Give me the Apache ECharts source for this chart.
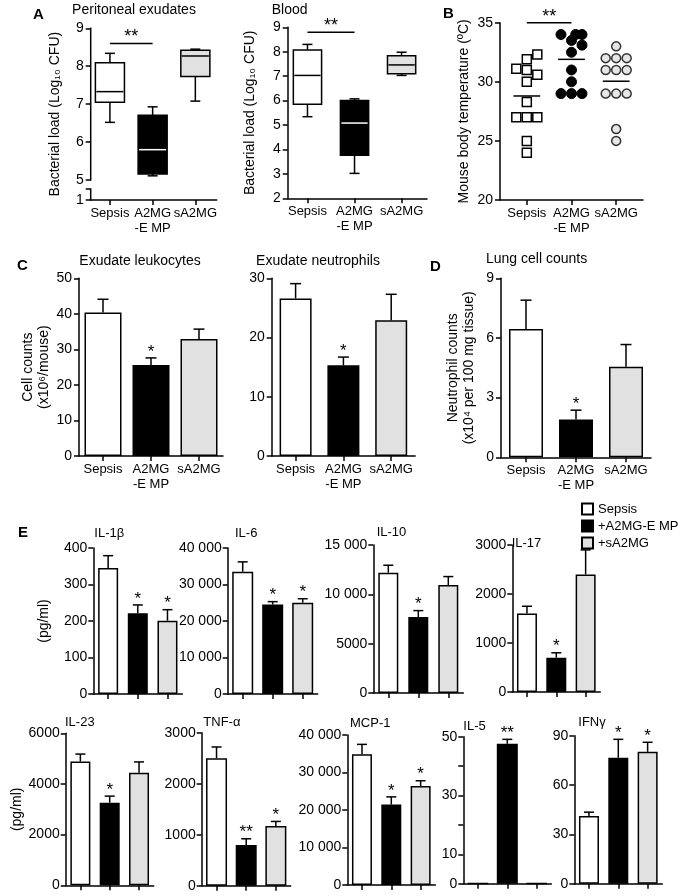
<!DOCTYPE html>
<html><head><meta charset="utf-8">
<script src="https://cdn.jsdelivr.net/npm/echarts@6/dist/echarts.min.js"></script>
<style>html,body{margin:0;padding:0;background:#fff}#c{width:683px;height:896px}</style>
</head><body><div id="c"></div>
<script>
const FF = '"Liberation Sans", Arial, Helvetica, sans-serif';
const groups = ['Sepsis', 'A2MG\n-E MP', 'sA2MG'];
const legendNames = ['Sepsis', '+A2MG-E MP', '+sA2MG'];
const groupFills = ['#ffffff', '#000000', '#e1e1e1'];

// Panel A: box plots [min, Q1, median, Q3, max]
const periSepsis = [6.52, 7.05, 7.33, 8.09, 8.34];
const periA2mg   = [5.11, 5.16, 5.80, 6.71, 6.93];
const periSa2mg  = [7.08, 7.73, 8.27, 8.42, 8.45];
const bloodSepsis = [5.34, 5.85, 7.03, 8.07, 8.30];
const bloodA2mg   = [3.02, 3.76, 5.08, 6.00, 6.07];
const bloodSa2mg  = [7.03, 7.10, 7.46, 7.84, 7.98];
const periTicks = [5, 6, 7, 8, 9];
const periBreakLabel = '1';
const periAxisMin = 4.473;
const periBreakTop = 4.76;
const periSig = [0, 1, 8.6];
const bloodSig = [0, 1, 8.8];

// Panel B: body temperature, with dodge column per point
const tempSepsis    = [32.3, 31.9, 31.1, 31.0, 30.6, 30.0, 28.3, 27.0, 27.0, 27.0, 25.0, 24.0];
const tempSepsisCol = [1, 0, -1, 0, 1, 0, 0, -1, 0, 1, 0, 0];
const tempA2mg      = [34.0, 34.0, 34.0, 33.5, 33.1, 32.5, 31.0, 30.0, 29.0, 29.0, 29.0];
const tempA2mgCol   = [-1, 0.4, 1, 0, 1, 0, 0, 0, -1, 0, 1];
const tempSa2mg     = [33, 32, 32, 32, 31, 31, 31, 29, 29, 29, 26, 25];
const tempSa2mgCol  = [0, -1, 0, 1, -1, 0, 1, -1, 0, 1, 0, 0];
const tempMean = [28.8, 31.9, 30.05];
const tempSig = [0, 1, 35];

// Panels C, D: mean and SEM
const leukoMean = [40.4, 25.6, 32.9];  const leukoSem = [3.7, 2.0, 2.8];  const leukoStars = ['', '*', ''];
const neutroMean = [26.6, 15.3, 22.9]; const neutroSem = [2.5, 1.4, 4.4]; const neutroStars = ['', '*', ''];
const lungMean = [6.45, 1.9, 4.55];    const lungSem = [1.45, 0.47, 1.12]; const lungStars = ['', '*', ''];

// Panel E: cytokines (pg/ml) mean and SEM
const il1bMean = [345, 221, 201];        const il1bSem = [34, 23, 30];         const il1bStars = ['', '*', '*'];
const il6Mean = [33500, 24500, 25000];   const il6Sem = [2700, 800, 1100];     const il6Stars = ['', '*', '*'];
const il10Mean = [12200, 7700, 10950];   const il10Sem = [750, 650, 850];      const il10Stars = ['', '*', ''];
const il17Mean = [1600, 700, 2400];      const il17Sem = [150, 100, 500];      const il17Stars = ['', '*', ''];
const il23Mean = [4890, 3260, 4440];     const il23Sem = [290, 260, 430];      const il23Stars = ['', '*', ''];
const tnfMean = [2500, 800, 1170];       const tnfSem = [220, 120, 90];        const tnfStars = ['', '**', '*'];
const mcpMean = [34900, 21450, 26400];   const mcpSem = [2600, 2050, 1400];    const mcpStars = ['', '*', '*'];
const il5Mean = [0.15, 47.6, 0.15];      const il5Sem = [0, 1.5, 0];           const il5Stars = ['', '**', ''];
const ifnMean = [41.2, 76.6, 80.2];      const ifnSem = [2.3, 11.2, 5.8];      const ifnStars = ['', '*', '*'];
const il5Labeled = [0, 10, 30, 50];

function merge(a, b) {
  const out = Object.assign({}, a);
  for (const k in b) {
    const v = b[k];
    if (v && typeof v === 'object' && !Array.isArray(v) && a && a[k] && typeof a[k] === 'object' && !Array.isArray(a[k])) out[k] = merge(a[k], v);
    else out[k] = v;
  }
  return out;
}

const option = {animation: false, backgroundColor: '#fff', grid: [], xAxis: [], yAxis: [], series: [], graphic: []};
const baseAxis = {
  splitLine: {show: false},
  axisLine: {show: true, onZero: false, lineStyle: {color: '#000', width: 1.5}},
  axisTick: {show: true, length: 5, lineStyle: {color: '#000', width: 1.5}},
  axisLabel: {color: '#000', fontFamily: FF, fontSize: 14},
  nameTextStyle: {color: '#000', fontFamily: FF, fontSize: 14}
};
function addGrid(l, t, w, h) { option.grid.push({left: l, top: t, width: w, height: h, containLabel: false, outerBoundsMode: 'none'}); return option.grid.length - 1; }
function addY(gi, o) { option.yAxis.push(merge(merge(baseAxis, {type: 'value', gridIndex: gi, axisLabel: {margin: 7}}), o)); return option.yAxis.length - 1; }
function addX(gi, o) { option.xAxis.push(merge(merge(baseAxis, {gridIndex: gi, axisLabel: {fontSize: 13, lineHeight: 15, margin: 6}}), o)); return option.xAxis.length - 1; }
const LS = {stroke: '#000', lineWidth: 1.5};
function ln(x1, y1, x2, y2, st) { return {type: 'line', shape: {x1, y1, x2, y2}, style: st || LS}; }
function txt(text, x, y, size) {
  return {type: 'text', style: {text, x, y, align: 'center', verticalAlign: 'middle', textAlign: 'center', textVerticalAlign: 'middle', fontSize: size || 15, fontFamily: FF, fill: '#000'}};
}

function boxRenderer(frac) {
  return function (params, api) {
    const x = api.value(0);
    const pt = k => api.coord([x, api.value(k)]);
    const lo = pt(1), q1 = pt(2), md = pt(3), q3 = pt(4), hi = pt(5);
    const cx = lo[0], bw = api.size([1, 0])[0] * frac, cap = 10, i = params.dataIndex;
    return {type: 'group', children: [
      ln(cx, lo[1], cx, q1[1]), ln(cx, q3[1], cx, hi[1]),
      ln(cx - cap / 2, lo[1], cx + cap / 2, lo[1]), ln(cx - cap / 2, hi[1], cx + cap / 2, hi[1]),
      {type: 'rect', shape: {x: cx - bw / 2, y: q3[1], width: bw, height: q1[1] - q3[1]}, style: {fill: groupFills[i], stroke: '#000', lineWidth: 1.5}},
      ln(cx - bw / 2 + 1, md[1], cx + bw / 2 - 1, md[1], {stroke: i === 1 ? '#fff' : '#000', lineWidth: 1.5})
    ]};
  };
}
function sigRenderer(params, api) {
  const a = api.coord([api.value(0), api.value(2)]), b = api.coord([api.value(1), api.value(2)]);
  return {type: 'group', children: [ln(a[0], a[1], b[0], b[1]), txt('**', (a[0] + b[0]) / 2, a[1] - 6, 18)]};
}
function errRenderer(stars, cap) {
  return function (params, api) {
    const i = api.value(0);
    const p0 = api.coord([i, api.value(1)]), p1 = api.coord([i, api.value(2)]);
    const ch = [];
    if (p1[1] < p0[1] - 0.5) { ch.push(ln(p0[0], p0[1], p1[0], p1[1])); ch.push(ln(p1[0] - cap / 2, p1[1], p1[0] + cap / 2, p1[1])); }
    const s = stars[params.dataIndex];
    if (s) ch.push(txt(s, p1[0], p1[1] - 6, 17));
    return {type: 'group', children: ch};
  };
}
function meanRenderer(params, api) {
  const p = api.coord([api.value(0), api.value(1)]), w = api.size([1, 0])[0] * 0.6;
  return ln(p[0] - w / 2, p[1], p[0] + w / 2, p[1]);
}
function axisSegRenderer(params, api) {
  const a = api.coord([0, api.value(1)]), b = api.coord([0, api.value(2)]), x = params.coordSys.x;
  return {type: 'line', shape: {x1: x, y1: a[1], x2: x, y2: b[1]}, style: {stroke: '#000', lineWidth: 1.5, lineCap: 'square'}};
}
const catLabels = {customValues: [0, 1, 2], formatter: v => groups[Math.round(v)]};

// ---- Panel A left: Peritoneal exudates
(function () {
  const g = addGrid(90.7, 28.3, 126, 171.7);
  const xi = addX(g, {type: 'value', min: -0.45, max: 2.5, axisTick: {customValues: [0, 1, 2]}, axisLabel: catLabels});
  const yi = addY(g, {min: periAxisMin, max: 9, axisLine: {show: false},
    axisTick: {customValues: [periAxisMin, periBreakTop].concat(periTicks)},
    axisLabel: {customValues: [periAxisMin].concat(periTicks), formatter: v => v < 4.9 ? periBreakLabel : String(v)},
    name: 'Bacterial load (Log\u2081\u2080 CFU)', nameLocation: 'middle', nameRotate: 90, nameGap: 29});
  const rows = [periSepsis, periA2mg, periSa2mg].map((r, i) => [i].concat(r));
  option.series.push({type: 'custom', xAxisIndex: xi, yAxisIndex: yi, clip: false, renderItem: boxRenderer(0.68), encode: {x: 0, y: [1, 2, 3, 4, 5]}, data: rows, z: 3});
  option.series.push({type: 'custom', xAxisIndex: xi, yAxisIndex: yi, clip: false, renderItem: axisSegRenderer, encode: {x: 0, y: [1, 2]}, data: [[0, 9, 5], [0, periBreakTop, periAxisMin]], z: 4});
  option.series.push({type: 'custom', xAxisIndex: xi, yAxisIndex: yi, clip: false, renderItem: sigRenderer, encode: {x: [0, 1], y: 2}, data: [periSig], z: 4});
})();

// ---- Panel A right: Blood
(function () {
  const g = addGrid(287.7, 27.3, 139.3, 171);
  const xi = addX(g, {type: 'value', min: -0.42, max: 2.54, axisTick: {customValues: [0, 1, 2]}, axisLabel: catLabels});
  const yi = addY(g, {min: 2, max: 9, interval: 1, name: 'Bacterial load (Log\u2081\u2080 CFU)', nameLocation: 'middle', nameRotate: 90, nameGap: 31});
  const rows = [bloodSepsis, bloodA2mg, bloodSa2mg].map((r, i) => [i].concat(r));
  option.series.push({type: 'custom', xAxisIndex: xi, yAxisIndex: yi, clip: false, renderItem: boxRenderer(0.6), encode: {x: 0, y: [1, 2, 3, 4, 5]}, data: rows, z: 3});
  option.series.push({type: 'custom', xAxisIndex: xi, yAxisIndex: yi, clip: false, renderItem: sigRenderer, encode: {x: [0, 1], y: 2}, data: [bloodSig], z: 4});
})();

// ---- Panel B: temperature
(function () {
  const g = addGrid(500, 22.7, 143, 177.3);
  const xi = addX(g, {type: 'value', min: -0.6, max: 2.6, axisTick: {customValues: [0, 1, 2]}, axisLabel: catLabels});
  const yi = addY(g, {min: 20, max: 35, interval: 5, name: 'Mouse body temperature (\u00baC)', nameLocation: 'middle', nameRotate: 90, nameGap: 29});
  const dodge = 0.235;
  const mk = (vals, cols, gi) => vals.map((v, k) => [gi + cols[k] * dodge, v]);
  option.series.push({type: 'scatter', xAxisIndex: xi, yAxisIndex: yi, symbol: 'rect', symbolSize: 9, itemStyle: {color: '#fff', borderColor: '#000', borderWidth: 1.5, opacity: 1}, data: mk(tempSepsis, tempSepsisCol, 0), z: 3});
  option.series.push({type: 'scatter', xAxisIndex: xi, yAxisIndex: yi, symbol: 'circle', symbolSize: 10, itemStyle: {color: '#000', borderColor: '#000', borderWidth: 1, opacity: 1}, data: mk(tempA2mg, tempA2mgCol, 1), z: 3});
  option.series.push({type: 'scatter', xAxisIndex: xi, yAxisIndex: yi, symbol: 'circle', symbolSize: 9, itemStyle: {color: '#e6e6e6', borderColor: '#333', borderWidth: 1.5, opacity: 1}, data: mk(tempSa2mg, tempSa2mgCol, 2), z: 3});
  option.series.push({type: 'custom', xAxisIndex: xi, yAxisIndex: yi, clip: false, renderItem: meanRenderer, encode: {x: 0, y: 1}, data: tempMean.map((m, i) => [i, m]), z: 4});
  option.series.push({type: 'custom', xAxisIndex: xi, yAxisIndex: yi, clip: false, renderItem: sigRenderer, encode: {x: [0, 1], y: 2}, data: [tempSig], z: 4});
})();

// ---- bar panels
function barPanel(box, yopt, mean, sem, stars, barWidth, cap, showLabels) {
  const g = addGrid(box[0], box[1], box[2], box[3]);
  const xi = addX(g, {type: 'category', data: groups, axisTick: {alignWithLabel: true}, axisLabel: {show: showLabels, interval: 0}});
  const yi = addY(g, yopt);
  option.series.push({type: 'bar', xAxisIndex: xi, yAxisIndex: yi, barWidth: barWidth, z: 2,
    data: mean.map((v, i) => ({value: v, itemStyle: {color: groupFills[i], borderColor: '#000', borderWidth: 1.5}}))});
  option.series.push({type: 'custom', xAxisIndex: xi, yAxisIndex: yi, clip: false, renderItem: errRenderer(stars, cap), encode: {x: 0, y: [1, 2]},
    data: mean.map((v, i) => [i, v, v + sem[i]]), z: 4});
}
const nameMid = (name, gap, lh) => ({name, nameLocation: 'middle', nameRotate: 90, nameGap: gap, nameTextStyle: {lineHeight: lh || 16}});
const fmtK = v => v >= 10000 ? String(v).replace(/\B(?=(\d{3})+(?!\d))/g, ' ') : String(v);

barPanel([79, 278.3, 144, 177.7], merge({min: 0, max: 50, interval: 10}, nameMid('Cell counts\n(x10\u2076/mouse)', 24)), leukoMean, leukoSem, leukoStars, 37, 11, true);
barPanel([271.7, 278.3, 143.4, 177.7], {min: 0, max: 30, interval: 10}, neutroMean, neutroSem, neutroStars, 32, 11, true);
barPanel([501, 278.3, 150, 179], merge({min: 0, max: 9, interval: 3}, nameMid('Neutrophil counts\n(x10\u2074 per 100 mg tissue)', 24)), lungMean, lungSem, lungStars, 34, 11, true);

const eY = (max, step, extra) => merge({min: 0, max: max, interval: step, axisLabel: {formatter: fmtK, margin: 6}}, extra || {});
barPanel([93.3, 548, 89, 146], eY(400, 100, nameMid('(pg/ml)', 41)), il1bMean, il1bSem, il1bStars, 20, 10, false);
barPanel([227.7, 548, 90, 146], eY(40000, 10000), il6Mean, il6Sem, il6Stars, 21, 10, false);
barPanel([373.3, 545, 90, 148], eY(15000, 5000), il10Mean, il10Sem, il10Stars, 20, 10, false);
barPanel([512.3, 545, 88, 147], eY(3000, 1000), il17Mean, il17Sem, il17Stars, 20, 10, false);
barPanel([65.7, 733.3, 88, 152], eY(6000, 2000, nameMid('(pg/ml)', 22)), il23Mean, il23Sem, il23Stars, 20, 10, false);
barPanel([201.7, 732.7, 89, 153], eY(3000, 1000), tnfMean, tnfSem, tnfStars, 21, 10, false);
barPanel([347.3, 735, 88, 150], eY(40000, 10000), mcpMean, mcpSem, mcpStars, 20, 10, false);
barPanel([463.3, 736.7, 88, 147], eY(50, 10, {axisLabel: {formatter: v => il5Labeled.indexOf(v) >= 0 ? String(v) : ''}}), il5Mean, il5Sem, il5Stars, 21, 10, false);
barPanel([574.3, 735.7, 88, 148], eY(90, 30), ifnMean, ifnSem, ifnStars, 20, 10, false);

// ---- legend (dummy series on a hidden grid)
(function () {
  const g = addGrid(0, 0, 1, 1);
  const xi = option.xAxis.push({type: 'category', gridIndex: g, show: false, data: []}) - 1;
  const yi = option.yAxis.push({type: 'value', gridIndex: g, show: false}) - 1;
  legendNames.forEach((n, i) => option.series.push({type: 'bar', name: n, xAxisIndex: xi, yAxisIndex: yi, data: [],
    itemStyle: {color: groupFills[i], borderColor: '#000', borderWidth: 1}}));
  option.legend = {show: true, orient: 'vertical', left: 581, top: 502.5, padding: 0, itemWidth: 11, itemHeight: 11, itemGap: 4,
    icon: 'rect', selectedMode: false, data: legendNames, textStyle: {color: '#000', fontSize: 13, fontFamily: FF}};
})();

// ---- panel letters and titles
function gtext(text, x, y, size, align, bold) {
  option.graphic.push({type: 'text', x: x, y: y, silent: true, style: {text, align: align, verticalAlign: 'middle', textAlign: align, textVerticalAlign: 'middle',
    fontSize: size, fontWeight: bold ? 'bold' : 'normal', fontFamily: FF, fill: '#000'}});
}
gtext('A', 33, 15, 15, 'left', true);
gtext('Peritoneal exudates', 134, 10, 14, 'center');
gtext('Blood', 271.7, 10, 14, 'left');
gtext('B', 443, 14, 15, 'left', true);
gtext('C', 17, 266, 15, 'left', true);
gtext('Exudate leukocytes', 140, 261, 14, 'center');
gtext('Exudate neutrophils', 318, 261, 14, 'center');
gtext('D', 430, 267, 15, 'left', true);
gtext('Lung cell counts', 486, 259, 14, 'left');
gtext('E', 18, 533, 15, 'left', true);
gtext('IL-1\u03b2', 94.3, 533, 13, 'left');
gtext('IL-6', 235, 533, 13, 'left');
gtext('IL-10', 376.7, 532, 13, 'left');
gtext('IL-17', 511.7, 543, 13, 'left');
gtext('IL-23', 65, 722, 13, 'left');
gtext('TNF-\u03b1', 203.3, 722, 13, 'left');
gtext('MCP-1', 350, 723, 13, 'left');
gtext('IL-5', 463.3, 726, 13, 'left');
gtext('IFN\u03b3', 578.3, 722, 13, 'left');

const chart = echarts.init(document.getElementById('c'), null, {renderer: 'canvas'});
chart.setOption(option);
</script>
</body></html>
